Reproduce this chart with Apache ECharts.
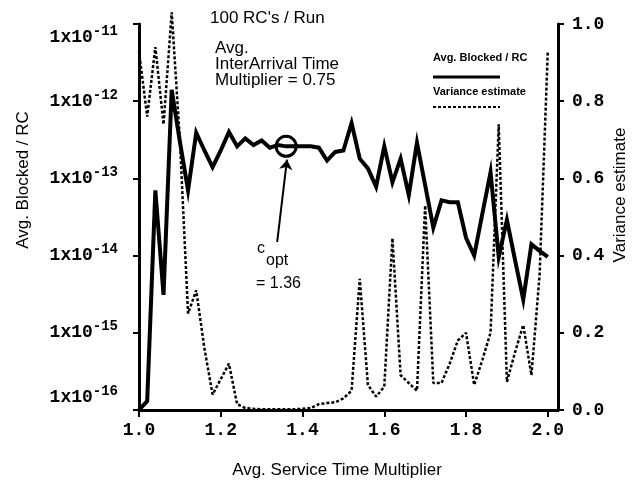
<!DOCTYPE html>
<html><head><meta charset="utf-8">
<script src="https://cdn.jsdelivr.net/npm/echarts@6/dist/echarts.min.js"></script>
<style>html,body{margin:0;padding:0;background:#fff}#c{width:636px;height:482px}</style>
</head><body><div id="c"></div>
<script>
// x values (Avg. Service Time Multiplier)
const xValues = [1.00,1.02,1.04,1.06,1.08,1.10,1.12,1.14,1.16,1.18,
  1.20,1.22,1.24,1.26,1.28,1.30,1.32,1.34,1.36,1.38,
  1.40,1.42,1.44,1.46,1.48,1.50,1.52,1.54,1.56,1.58,
  1.60,1.62,1.64,1.66,1.68,1.70,1.72,1.74,1.76,1.78,
  1.80,1.82,1.84,1.86,1.88,1.90,1.92,1.94,1.96,1.98,2.00];
// Avg. Blocked / RC (left, log axis)
const blockedPerRC = [1.0e-16,1.3e-16,7.0e-14,3.1e-15,1.4e-12,3.0e-13,7.0e-14,3.9e-13,2.3e-13,1.4e-13,
  2.3e-13,4.0e-13,2.6e-13,3.3e-13,2.7e-13,3.1e-13,2.5e-13,2.7e-13,2.6e-13,2.6e-13,
  2.6e-13,2.6e-13,2.5e-13,1.7e-13,2.2e-13,2.3e-13,5.2e-13,1.8e-13,1.35e-13,7.8e-14,
  2.6e-13,8.9e-14,1.8e-13,6.1e-14,2.9e-13,8.2e-14,2.3e-14,5.2e-14,4.9e-14,4.9e-14,
  1.7e-14,1.0e-14,3.5e-14,1.2e-13,9.6e-15,2.9e-14,8.7e-15,2.7e-15,1.4e-14,1.15e-14,9.6e-15];
// Variance estimate (right axis)
const varianceEstimate = [0.93,0.76,0.94,0.74,1.03,0.70,0.25,0.31,0.16,0.04,
  0.08,0.12,0.015,0.005,0.003,0.002,0.002,0.002,0.002,0.002,
  0.003,0.005,0.015,0.018,0.02,0.03,0.05,0.34,0.065,0.035,
  0.06,0.445,0.09,0.07,0.05,0.53,0.07,0.07,0.12,0.18,
  0.20,0.065,0.13,0.20,0.74,0.073,0.15,0.22,0.09,0.35,0.93];
const xTickLabels = [1.0,1.2,1.4,1.6,1.8,2.0];
const cOpt = [1.36, 2.6e-13];
const arrowFrom = [1.338, 1.5e-14];
const arrowTo = [1.362, 1.75e-13];

const mono = "'Liberation Mono','Courier New',monospace";
const sans = "'Liberation Sans',Arial,Helvetica,sans-serif";
const chart = echarts.init(document.getElementById('c'), null, {renderer:'canvas'});
const axisLineStyle = {color:'#000', width:3};
const option = {
  animation:false,
  backgroundColor:'#fff',
  grid:{left:139,right:78,top:24,bottom:72,containLabel:false,outerBoundsMode:'none'},
  xAxis:{type:'value',min:1.0,max:2.025,interval:0.2,
    axisLine:{show:true,onZero:false,lineStyle:axisLineStyle},
    axisTick:{show:true,length:7,lineStyle:{color:'#000',width:2},customValues:xTickLabels},
    axisLabel:{customValues:xTickLabels,formatter:v=>v.toFixed(1),margin:11,color:'#000',
      fontFamily:mono,fontWeight:'bold',fontSize:18},
    splitLine:{show:false}},
  yAxis:[
    {type:'log',logBase:10,min:1e-16,max:1e-11,position:'left',
      axisLine:{show:true,lineStyle:axisLineStyle},
      axisTick:{show:true,length:6,lineStyle:{color:'#000',width:2}},
      minorTick:{show:false},splitLine:{show:false},
      axisLabel:{margin:21,verticalAlignMinLabel:'bottom',verticalAlignMaxLabel:'top',
        formatter:v=>'{b|1x10}{s|'+Math.round(Math.log10(v))+'}',
        rich:{b:{fontFamily:mono,fontWeight:'bold',fontSize:18,lineHeight:26,color:'#000'},
              s:{fontFamily:mono,fontWeight:'bold',fontSize:14,lineHeight:14,verticalAlign:'top',color:'#000'}}}},
    {type:'value',min:0,max:1,interval:0.2,position:'right',
      axisLine:{show:true,lineStyle:axisLineStyle},
      axisTick:{show:true,length:6,lineStyle:{color:'#000',width:2}},
      splitLine:{show:false},
      axisLabel:{margin:14,formatter:v=>v.toFixed(1),color:'#000',fontFamily:mono,fontWeight:'bold',fontSize:18}}
  ],
  series:[
    {type:'line',name:'Avg. Blocked / RC',yAxisIndex:0,symbol:'none',z:3,
      data:xValues.map((x,i)=>[x,blockedPerRC[i]]),
      lineStyle:{color:'#000',width:4,join:'miter'},
      markPoint:{silent:true,symbol:'circle',symbolSize:20,
        itemStyle:{color:'rgba(255,255,255,0)',borderColor:'#000',borderWidth:3},
        label:{show:false},data:[{coord:cOpt}]},
      markLine:{silent:true,symbol:['none','arrow'],symbolSize:10,
        lineStyle:{color:'#000',width:2,type:'solid'},label:{show:false},
        data:[[{coord:arrowFrom},{coord:arrowTo}]]}},
    {type:'line',name:'Variance estimate',yAxisIndex:1,symbol:'none',clip:false,
      data:xValues.map((x,i)=>[x,varianceEstimate[i]]),
      lineStyle:{color:'#000',width:2.5,type:[3,2]}}
  ],
  graphic:[
    {type:'text',x:210,y:18,style:{text:"100 RC's / Run",font:'17px '+sans,fill:'#000',textVerticalAlign:'middle'}},
    {type:'text',x:215,y:48,style:{text:'Avg.',font:'17px '+sans,fill:'#000',textVerticalAlign:'middle'}},
    {type:'text',x:215,y:64,style:{text:'InterArrival Time',font:'17px '+sans,fill:'#000',textVerticalAlign:'middle'}},
    {type:'text',x:215,y:80,style:{text:'Multiplier = 0.75',font:'17px '+sans,fill:'#000',textVerticalAlign:'middle'}},
    {type:'text',x:433,y:58,style:{text:'Avg. Blocked / RC',font:'bold 11px '+sans,fill:'#000',textVerticalAlign:'middle'}},
    {type:'line',shape:{x1:433,y1:77,x2:500,y2:77},style:{stroke:'#000',lineWidth:3}},
    {type:'text',x:433,y:92,style:{text:'Variance estimate',font:'bold 11px '+sans,fill:'#000',textVerticalAlign:'middle'}},
    {type:'line',shape:{x1:433,y1:107,x2:500,y2:107},style:{stroke:'#000',lineWidth:2,lineDash:[3,2]}},
    {type:'text',x:257,y:249,style:{text:'c',font:'16px '+sans,fill:'#000',textVerticalAlign:'middle'}},
    {type:'text',x:266,y:261,style:{text:'opt',font:'16px '+sans,fill:'#000',textVerticalAlign:'middle'}},
    {type:'text',x:256,y:284,style:{text:'= 1.36',font:'16px '+sans,fill:'#000',textVerticalAlign:'middle'}},
    {type:'text',x:23,y:180,rotation:Math.PI/2,style:{text:'Avg. Blocked / RC',font:'17px '+sans,fill:'#000',textAlign:'center',textVerticalAlign:'middle'}},
    {type:'text',x:620,y:195,rotation:Math.PI/2,style:{text:'Variance estimate',font:'17px '+sans,fill:'#000',textAlign:'center',textVerticalAlign:'middle'}},
    {type:'text',x:337,y:470,style:{text:'Avg. Service Time Multiplier',font:'17px '+sans,fill:'#000',textAlign:'center',textVerticalAlign:'middle'}}
  ]
};
chart.setOption(option);
</script></body></html>
